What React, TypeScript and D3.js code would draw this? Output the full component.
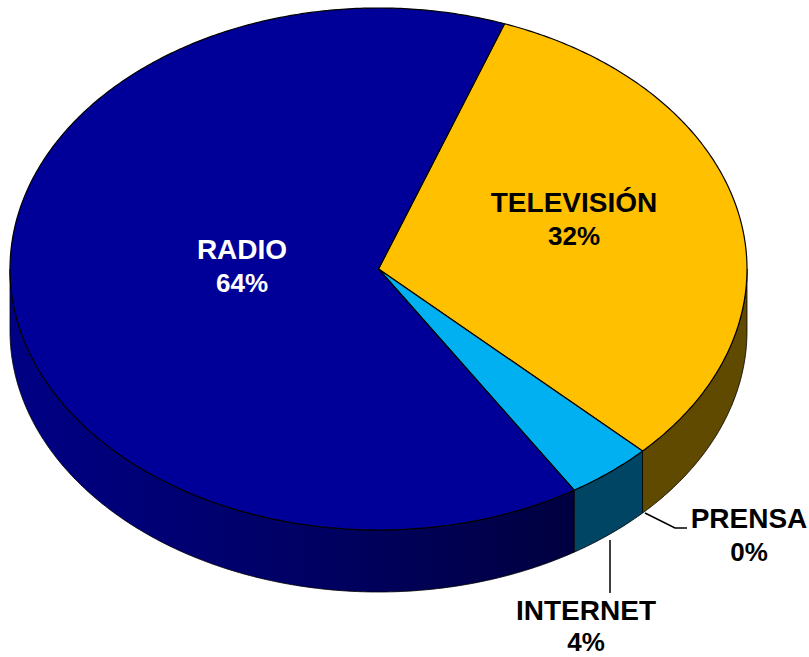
import React from "react";
import * as d3 from "d3";

const categories = ["TELEVISIÓN", "INTERNET", "PRENSA", "RADIO"];
const values = [31.7, 3.8, 0, 64.4];
const topColors = ["#FFC000", "#00B0F0", "#7F7F7F", "#000099"];
const sideColors = ["#604A00", "#004664", "#333333", "#000060"];
const labelColors = ["#000000", "#000000", "#000000", "#FFFFFF"];
const labelCenters: [number, number][] = [[574, 212], [586, 620], [749, 528], [242, 259]];
const percentBaselines = [245, 651, 561, 292];
const leaderLines: ([number, number][] | null)[] = [
  null,
  [[610, 540], [610, 593]],
  [[645, 513], [675, 528], [687, 528]],
  null,
];

const W = 809, H = 657;
const cx = 378.5, cy = 269, rx = 368.5, ry = 261, depth = 62;
const firstAngle = (20 * Math.PI) / 180;

const pie = d3.pie<number>().sort(null).startAngle(firstAngle).endAngle(firstAngle + 2 * Math.PI);
const arcs = pie(values);

const px = (a: number) => cx + rx * Math.sin(a);
const py = (a: number) => cy - ry * Math.cos(a);
const line = d3.line<[number, number]>().curve(d3.curveLinear);
const sample = (a0: number, a1: number) => {
  const n = Math.max(2, Math.ceil(Math.abs(a1 - a0) / 0.01));
  return d3.range(n + 1).map((i) => a0 + ((a1 - a0) * i) / n);
};
const topPath = (a0: number, a1: number) =>
  line([[cx, cy], ...sample(a0, a1).map((a) => [px(a), py(a)] as [number, number])]) + "Z";
const sidePath = (a0: number, a1: number) => {
  const lo = Math.max(a0, Math.PI / 2);
  const hi = Math.min(a1, (3 * Math.PI) / 2);
  if (hi <= lo) return null;
  const s = sample(lo, hi);
  const upper = s.map((a) => [px(a), py(a)] as [number, number]);
  const lower = [...s].reverse().map((a) => [px(a), py(a) + depth] as [number, number]);
  return line([...upper, ...lower]) + "Z";
};
const font = "'Liberation Sans', Arial, sans-serif";

export default function App() {
  return (
    <svg width={W} height={H} viewBox={`0 0 ${W} ${H}`} style={{ position: "absolute", left: 0, top: 0 }}>
      <defs>
        <linearGradient id="radioSide" gradientUnits="userSpaceOnUse" x1={cx - rx} x2={px(arcs[3].startAngle)} y1={0} y2={0}>
          <stop offset="0" stopColor="#000085" />
          <stop offset="0.5" stopColor="#000066" />
          <stop offset="1" stopColor="#000040" />
        </linearGradient>
      </defs>
      {arcs.map((d, i) => {
        const p = sidePath(d.startAngle, d.endAngle);
        return p ? (
          <path key={`s${i}`} d={p} fill={i === 3 ? "url(#radioSide)" : sideColors[i]} stroke="#000" strokeWidth={0.8} strokeLinejoin="round" />
        ) : null;
      })}
      {arcs.map((d, i) =>
        values[i] > 0 ? (
          <path key={`t${i}`} d={topPath(d.startAngle, d.endAngle)} fill={topColors[i]} stroke="#000" strokeWidth={1.2} strokeLinejoin="round" />
        ) : null
      )}
      {leaderLines.map((l, i) =>
        l ? <path key={`l${i}`} d={line(l) as string} fill="none" stroke="#000" strokeWidth={1.5} /> : null
      )}
      {categories.map((c, i) => (
        <g key={c} fontFamily={font} fontWeight="bold" textAnchor="middle" fill={labelColors[i]}>
          <text x={labelCenters[i][0]} y={labelCenters[i][1]} fontSize={28}>{c}</text>
          <text x={labelCenters[i][0]} y={percentBaselines[i]} fontSize={26}>{Math.round(values[i])}%</text>
        </g>
      ))}
    </svg>
  );
}
